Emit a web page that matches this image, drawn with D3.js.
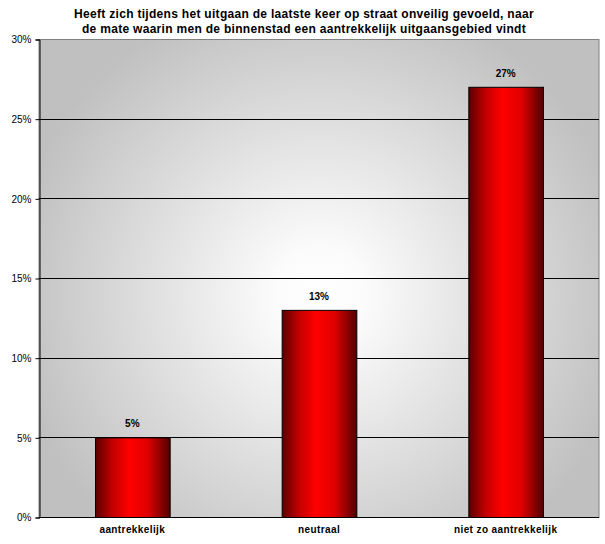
<!DOCTYPE html>
<html><head><meta charset="utf-8">
<script src="https://cdn.jsdelivr.net/npm/d3@7"></script>
<style>body{margin:0;background:#fff;font-family:"Liberation Sans",Arial,sans-serif;}</style>
</head><body>
<svg id="c" width="605" height="544"></svg>
<script>
const categories = ["aantrekkelijk", "neutraal", "niet zo aantrekkelijk"];
const values = [5, 13, 27];
const valueLabels = ["5%", "13%", "27%"];
const yTicks = [0, 5, 10, 15, 20, 25, 30];
const titleLines = ["Heeft zich tijdens het uitgaan de laatste keer op straat onveilig gevoeld, naar", "de mate waarin men de binnenstad een aantrekkelijk uitgaansgebied vindt"];

const FONT = "Liberation Sans, Arial, sans-serif";
const svg = d3.select("#c");
const m = {l: 39, r: 599, t: 39, b: 517};
const x = d3.scaleBand().domain(categories).range([m.l, m.r]).paddingInner(0.6).paddingOuter(0.3);
const y = d3.scaleLinear().domain([0, 30]).range([m.b, m.t]);

const defs = svg.append("defs");
const rg = defs.append("radialGradient").attr("id","bg").attr("gradientUnits","userSpaceOnUse")
  .attr("cx", 320).attr("cy", 295).attr("r", 310);
rg.append("stop").attr("offset","0%").attr("stop-color","#ffffff");
rg.append("stop").attr("offset","15%").attr("stop-color","#fbfbfb");
rg.append("stop").attr("offset","100%").attr("stop-color","#c0c0c0");
const lg = defs.append("linearGradient").attr("id","bar").attr("x1","0").attr("x2","1").attr("y1","0").attr("y2","0");
lg.append("stop").attr("offset","0%").attr("stop-color","#5a0000");
lg.append("stop").attr("offset","22%").attr("stop-color","#c00000");
lg.append("stop").attr("offset","45%").attr("stop-color","#ff0000");
lg.append("stop").attr("offset","70%").attr("stop-color","#e00000");
lg.append("stop").attr("offset","100%").attr("stop-color","#500000");

svg.append("rect").attr("x", m.l).attr("y", m.t + 0.5).attr("width", m.r - m.l).attr("height", m.b - m.t)
  .attr("fill","url(#bg)").attr("stroke","#808080").attr("stroke-width",1);

// gridlines
svg.append("g").selectAll("line").data(yTicks.filter(d => d > 0 && d < 30)).join("line")
  .attr("x1", m.l).attr("x2", m.r).attr("y1", d => Math.round(y(d)) + 0.5).attr("y2", d => Math.round(y(d)) + 0.5)
  .attr("stroke","#000").attr("stroke-width",1);

// y axis
const yAxis = d3.axisLeft(y).tickValues(yTicks).tickFormat(d => d + "%").tickSize(4).tickPadding(4);
const ya = svg.append("g").attr("transform", `translate(${m.l + 0.5},0.5)`).call(yAxis);
ya.select(".domain").attr("stroke","#000");
ya.selectAll("text").attr("font-size", 10).attr("font-family", FONT).attr("fill","#000");

// bars
svg.append("g").selectAll("rect").data(values).join("rect")
  .attr("x", (d,i) => x(categories[i]) + 0.5).attr("y", d => y(d) + 0.5)
  .attr("width", x.bandwidth()).attr("height", d => y(0) - y(d))
  .attr("fill","url(#bar)").attr("stroke","#000").attr("stroke-width",1);

// x axis
const xAxis = d3.axisBottom(x).tickSize(0).tickPadding(8);
const xa = svg.append("g").attr("transform", `translate(0,${m.b + 0.5})`).call(xAxis);
xa.select(".domain").attr("stroke","#000").attr("d", `M${m.l},0H${m.r}`);
xa.selectAll("text").attr("font-size", 10).attr("font-weight","bold").attr("letter-spacing", 0.4)
  .attr("font-family", FONT).attr("fill","#000");

// value labels
svg.append("g").selectAll("text").data(values).join("text")
  .attr("x", (d,i) => x(categories[i]) + x.bandwidth()/2).attr("y", d => y(d) - 10)
  .attr("text-anchor","middle").attr("font-size", 10).attr("font-weight","bold")
  .attr("font-family", FONT).text((d,i) => valueLabels[i]);

// title
svg.append("g").selectAll("text").data(titleLines).join("text")
  .attr("x", 304).attr("y", (d,i) => 18 + i*15).attr("text-anchor","middle")
  .attr("font-size", 12).attr("font-weight","bold").attr("letter-spacing", 0.3)
  .attr("font-family", FONT).text(d => d);
</script>
</body></html>
